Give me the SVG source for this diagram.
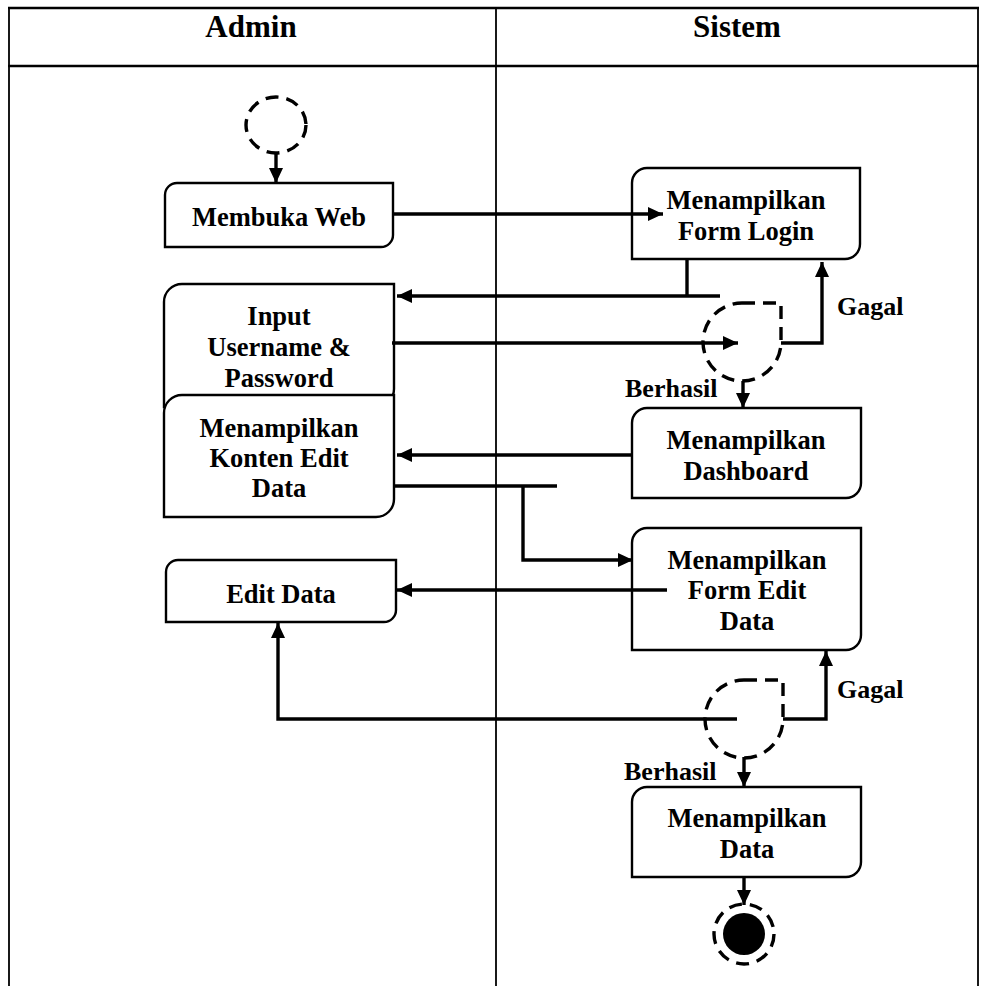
<svg xmlns="http://www.w3.org/2000/svg" width="987" height="986" viewBox="0 0 987 986">
<style>
.tbl{stroke:#000;stroke-width:2.4;fill:none}
.tblv{stroke:#000;stroke-width:1.8;fill:none}
.box{fill:#fff;stroke:#000;stroke-width:2.4}
.con{fill:none;stroke:#000;stroke-width:3.4}
.dash{fill:none;stroke:#000;stroke-width:3.4;stroke-dasharray:13 8}
text{font-family:"Liberation Serif",Tinos,"Times New Roman",Times,"Noto Serif","DejaVu Serif",serif;font-weight:700;fill:#000}
.hd{font-size:31px;text-anchor:middle}
.nt{font-size:26.5px;text-anchor:middle}
.lb{font-size:26px}
</style>
<defs>
<marker id="ah" markerUnits="userSpaceOnUse" markerWidth="15" markerHeight="14" refX="15" refY="7" orient="auto">
<path d="M0,0 L15,7 L0,14 Z" fill="#000"/>
</marker>
</defs>
<g id="table">
<line class="tbl" x1="8" y1="8" x2="979" y2="8"/>
<line class="tbl" x1="8" y1="66" x2="979" y2="66"/>
<line class="tblv" x1="9" y1="8" x2="9" y2="986"/>
<line class="tblv" x1="978" y1="8" x2="978" y2="986"/>
<line class="tblv" x1="496" y1="8" x2="496" y2="986"/>
<text class="hd" x="251" y="37">Admin</text>
<text class="hd" x="737" y="37">Sistem</text>
</g>
<g id="start">
<ellipse class="dash" cx="276" cy="125" rx="30" ry="28"/>
</g>
<g id="membuka-web">
<path class="box" d="M165,195 A12,12 0 0 1 177,183 H393 V235 A12,12 0 0 1 381,247 H165 Z"/>
<text class="nt" x="279" y="226">Membuka Web</text>
</g>
<g id="form-login">
<path class="box" d="M632,183 A15,15 0 0 1 647,168 H860 V244 A15,15 0 0 1 845,259 H632 Z"/>
<text class="nt" x="746" y="209">Menampilkan</text>
<text class="nt" x="746" y="240">Form Login</text>
</g>
<g id="input">
<path class="box" d="M164,302 A18,18 0 0 1 182,284 H394 V389 A18,18 0 0 1 376,407 H164 Z"/>
<text class="nt" x="279" y="325">Input</text>
<text class="nt" x="279" y="356">Username &amp;</text>
<text class="nt" x="279" y="387">Password</text>
</g>
<g id="konten">
<path class="box" d="M164,413 A18,18 0 0 1 182,395 H394 V499 A18,18 0 0 1 376,517 H164 Z"/>
<text class="nt" x="279" y="437">Menampilkan</text>
<text class="nt" x="279" y="467">Konten Edit</text>
<text class="nt" x="279" y="497">Data</text>
</g>
<g id="decision1">
<path class="dash" d="M742,303 L781,303 L781,342 A39,39 0 1 1 742,303"/>
</g>
<g id="dashboard">
<path class="box" d="M632,423 A15,15 0 0 1 647,408 H861 V483 A15,15 0 0 1 846,498 H632 Z"/>
<text class="nt" x="746" y="449">Menampilkan</text>
<text class="nt" x="746" y="480">Dashboard</text>
</g>
<g id="form-edit">
<path class="box" d="M632,543 A15,15 0 0 1 647,528 H861 V635 A15,15 0 0 1 846,650 H632 Z"/>
<text class="nt" x="747" y="569">Menampilkan</text>
<text class="nt" x="747" y="599">Form Edit</text>
<text class="nt" x="747" y="630">Data</text>
</g>
<g id="edit-data">
<path class="box" d="M166,572 A12,12 0 0 1 178,560 H396 V610 A12,12 0 0 1 384,622 H166 Z"/>
<text class="nt" x="281" y="603">Edit Data</text>
</g>
<g id="decision2">
<path class="dash" d="M744,680 L783,680 L783,719 A39,39 0 1 1 744,680"/>
</g>
<g id="menampilkan-data">
<path class="box" d="M632,802 A15,15 0 0 1 647,787 H861 V862 A15,15 0 0 1 846,877 H632 Z"/>
<text class="nt" x="747" y="827">Menampilkan</text>
<text class="nt" x="747" y="858">Data</text>
</g>
<g id="end">
<circle cx="744" cy="934" r="21" fill="#000"/>
<circle class="dash" cx="744" cy="934" r="30"/>
</g>
<g id="connectors">
<line class="con" x1="276" y1="154" x2="276" y2="183" marker-end="url(#ah)"/>
<line class="con" x1="393" y1="214" x2="663" y2="214" marker-end="url(#ah)"/>
<line class="con" x1="687" y1="259" x2="687" y2="296"/>
<line class="con" x1="720" y1="296" x2="397" y2="296" marker-end="url(#ah)"/>
<line class="con" x1="392" y1="343" x2="738" y2="343" marker-end="url(#ah)"/>
<polyline class="con" points="781,343 822,343 822,262" marker-end="url(#ah)"/>
<line class="con" x1="743" y1="381" x2="743" y2="408" marker-end="url(#ah)"/>
<line class="con" x1="632" y1="455" x2="397" y2="455" marker-end="url(#ah)"/>
<line class="con" x1="394" y1="486" x2="557" y2="486"/>
<polyline class="con" points="523,486 523,560 633,560" marker-end="url(#ah)"/>
<line class="con" x1="667" y1="590" x2="397" y2="590" marker-end="url(#ah)"/>
<polyline class="con" points="737,719 278,719 278,623" marker-end="url(#ah)"/>
<polyline class="con" points="783,719 826,719 826,651" marker-end="url(#ah)"/>
<line class="con" x1="744" y1="757" x2="744" y2="787" marker-end="url(#ah)"/>
<line class="con" x1="744" y1="877" x2="744" y2="905" marker-end="url(#ah)"/>
<text class="lb" x="837" y="315">Gagal</text>
<text class="lb" x="625" y="397">Berhasil</text>
<text class="lb" x="837" y="698">Gagal</text>
<text class="lb" x="624" y="780">Berhasil</text>
</g>
</svg>
